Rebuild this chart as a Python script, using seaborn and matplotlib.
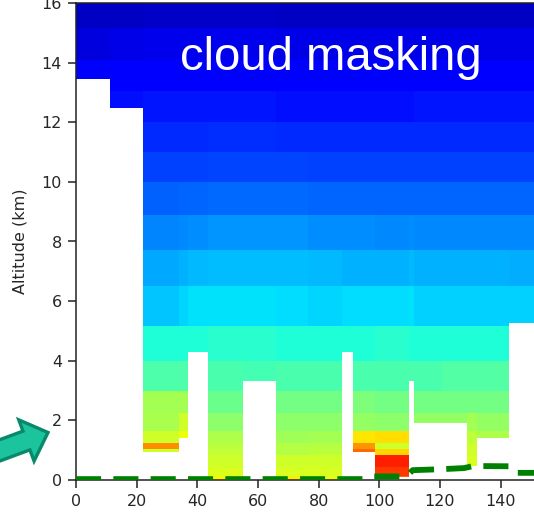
import numpy as np
import matplotlib
matplotlib.use("Agg")
import matplotlib.pyplot as plt
import matplotlib.transforms as mtransforms
from matplotlib.patches import FancyArrow
import seaborn as sns

# ---------------- data ----------------
# horizontal edges of the profile columns (x units)
x_edges = [0, 11.2, 22.2, 34.1, 37.0, 43.6, 55.0, 65.8, 76.6, 87.8, 91.4,
           98.6, 109.8, 111.5, 121.0, 128.8, 132.1, 142.7, 153.0]
# cloud-masked (white) up to this altitude in each column (km)
mask_top = [13.45, 12.47, 0.95, 1.42, 4.30, 0.0, 3.32, 0.0, 0.0, 4.30,
            0.95, 0.10, 3.32, 1.92, 1.92, 0.48, 1.42, 5.26]
# altitude level edges (km)
level_edges = [0, 0.15, 0.45, 0.85, 1.05, 1.25, 1.65, 2.25, 3.0, 4.0, 5.15,
               6.5, 7.7, 8.9, 10.0, 11.0, 12.0, 13.05, 14.1, 15.15, 16.5]
# colour value of each level (bottom -> top), one row per column
N = None
values = [
    [N, N, N, N, N, N, N, N, N, N, N, N, N, N, N, N, N, 0.115, 0.085, 0.06],
    [N, N, N, N, N, N, N, N, N, N, N, N, N, N, N, N, 0.14, 0.115, 0.09, 0.06],
    [N, N, N, 0.60, 0.76, 0.60, 0.555, 0.55, 0.445, 0.39, 0.32, 0.29, 0.255, 0.22, 0.19, 0.165, 0.145, 0.12, 0.095, 0.065],
    [N, N, N, N, N, 0.64, 0.60, 0.55, 0.445, 0.39, 0.335, 0.30, 0.26, 0.225, 0.19, 0.165, 0.145, 0.12, 0.095, 0.065],
    [N, N, N, N, N, N, N, N, N, 0.39, 0.345, 0.305, 0.265, 0.225, 0.19, 0.165, 0.145, 0.12, 0.095, 0.065],
    [0.65, 0.615, 0.60, 0.585, 0.575, 0.56, 0.52, 0.48, 0.44, 0.40, 0.345, 0.31, 0.27, 0.23, 0.195, 0.17, 0.145, 0.12, 0.095, 0.065],
    [N, N, N, N, N, N, N, N, 0.43, 0.40, 0.345, 0.31, 0.27, 0.23, 0.195, 0.17, 0.145, 0.12, 0.095, 0.065],
    [0.66, 0.61, 0.60, 0.57, 0.57, 0.545, 0.52, 0.49, 0.44, 0.39, 0.34, 0.31, 0.27, 0.23, 0.195, 0.165, 0.14, 0.115, 0.09, 0.06],
    [0.63, 0.61, 0.60, 0.575, 0.57, 0.55, 0.52, 0.49, 0.44, 0.39, 0.335, 0.305, 0.265, 0.225, 0.19, 0.165, 0.14, 0.115, 0.09, 0.06],
    [N, N, N, N, N, N, N, N, N, 0.39, 0.34, 0.30, 0.265, 0.225, 0.19, 0.165, 0.14, 0.115, 0.09, 0.06],
    [N, N, N, 0.80, 0.75, 0.665, 0.53, 0.50, 0.44, 0.39, 0.34, 0.30, 0.265, 0.225, 0.19, 0.165, 0.14, 0.115, 0.09, 0.06],
    [0.80, 0.85, 0.875, 0.68, 0.60, 0.675, 0.52, 0.49, 0.44, 0.40, 0.34, 0.30, 0.26, 0.225, 0.19, 0.165, 0.14, 0.115, 0.09, 0.06],
    [N, N, N, N, N, N, N, N, 0.44, 0.39, 0.345, 0.305, 0.265, 0.225, 0.19, 0.165, 0.14, 0.115, 0.09, 0.06],
    [N, N, N, N, N, N, 0.53, 0.49, 0.44, 0.39, 0.33, 0.30, 0.26, 0.225, 0.19, 0.165, 0.145, 0.115, 0.09, 0.06],
    [N, N, N, N, N, N, 0.53, 0.49, 0.45, 0.39, 0.33, 0.30, 0.26, 0.225, 0.19, 0.165, 0.145, 0.12, 0.09, 0.06],
    [N, N, 0.61, 0.60, 0.60, 0.58, 0.55, 0.49, 0.45, 0.39, 0.33, 0.30, 0.26, 0.225, 0.19, 0.165, 0.145, 0.12, 0.09, 0.06],
    [N, N, N, N, N, 0.56, 0.53, 0.49, 0.45, 0.39, 0.33, 0.30, 0.26, 0.225, 0.19, 0.165, 0.145, 0.12, 0.09, 0.06],
    [N, N, N, N, N, N, N, N, N, N, 0.33, 0.295, 0.26, 0.225, 0.19, 0.165, 0.145, 0.12, 0.09, 0.06],
]
# surface elevation (green dashed line)
surf_x = [0, 95, 98, 109, 111, 120, 128, 131, 143, 145, 153]
surf_z = [0.03, 0.03, 0.12, 0.12, 0.33, 0.36, 0.40, 0.47, 0.46, 0.24, 0.24]

x_ticks = [0, 20, 40, 60, 80, 100, 120, 140]
y_ticks = [0, 2, 4, 6, 8, 10, 12, 14, 16]

# ---------------- plot ----------------
sns.set_style("ticks")
plt.rcParams["font.family"] = ["DejaVu Sans"]

W, H = 534, 513
fig = plt.figure(figsize=(W / 100, H / 100), dpi=100)
ax = fig.add_axes([76 / W, 33 / H, 461 / W, 477 / H])

for i in range(len(mask_top)):
    m = mask_top[i]
    ye = [m]
    vv = []
    for k in range(len(level_edges) - 1):
        top = level_edges[k + 1]
        if top > m and values[i][k] is not None:
            ye.append(top)
            vv.append(values[i][k])
    if not vv:
        continue
    ax.pcolormesh([x_edges[i], x_edges[i + 1]], ye, np.array(vv)[:, None],
                  cmap="jet", vmin=0, vmax=1, shading="flat",
                  antialiased=False, edgecolors="none", linewidth=0)

sns.lineplot(x=surf_x, y=surf_z, ax=ax, color="green", lw=4.2,
             linestyle=(0, (4.3, 2.1)), zorder=5)

ax.set_xlim(0, 152)
ax.set_ylim(0, 16)
ax.set_xticks(x_ticks)
ax.set_yticks(y_ticks)
ax.tick_params(labelsize=11.5, length=5.5, width=1.1, pad=4.5, color="#222222")
for s in ax.spines.values():
    s.set_linewidth(1.1)
    s.set_color("#222222")
ax.set_ylabel("Altitude (km)", fontsize=11.5)
ax.yaxis.set_label_coords(-0.106, 0.5)

ax.text(34.3, 13.75, "cloud masking", color="white", fontsize=34,
        family=["Liberation Sans", "DejaVu Sans"], va="baseline", ha="left")

# arrow in figure pixel coordinates
pix = mtransforms.Affine2D().scale(1 / W, 1 / H) + fig.transFigure
arr = FancyArrow(-6.0, 60.5, 54.0, 20.0, width=20, head_width=44,
                 head_length=23, length_includes_head=True,
                 transform=pix, facecolor="#1cc49e", edgecolor="#07896a",
                 linewidth=2.4, clip_on=False)
fig.add_artist(arr)

fig.savefig("out.png", dpi=100)
